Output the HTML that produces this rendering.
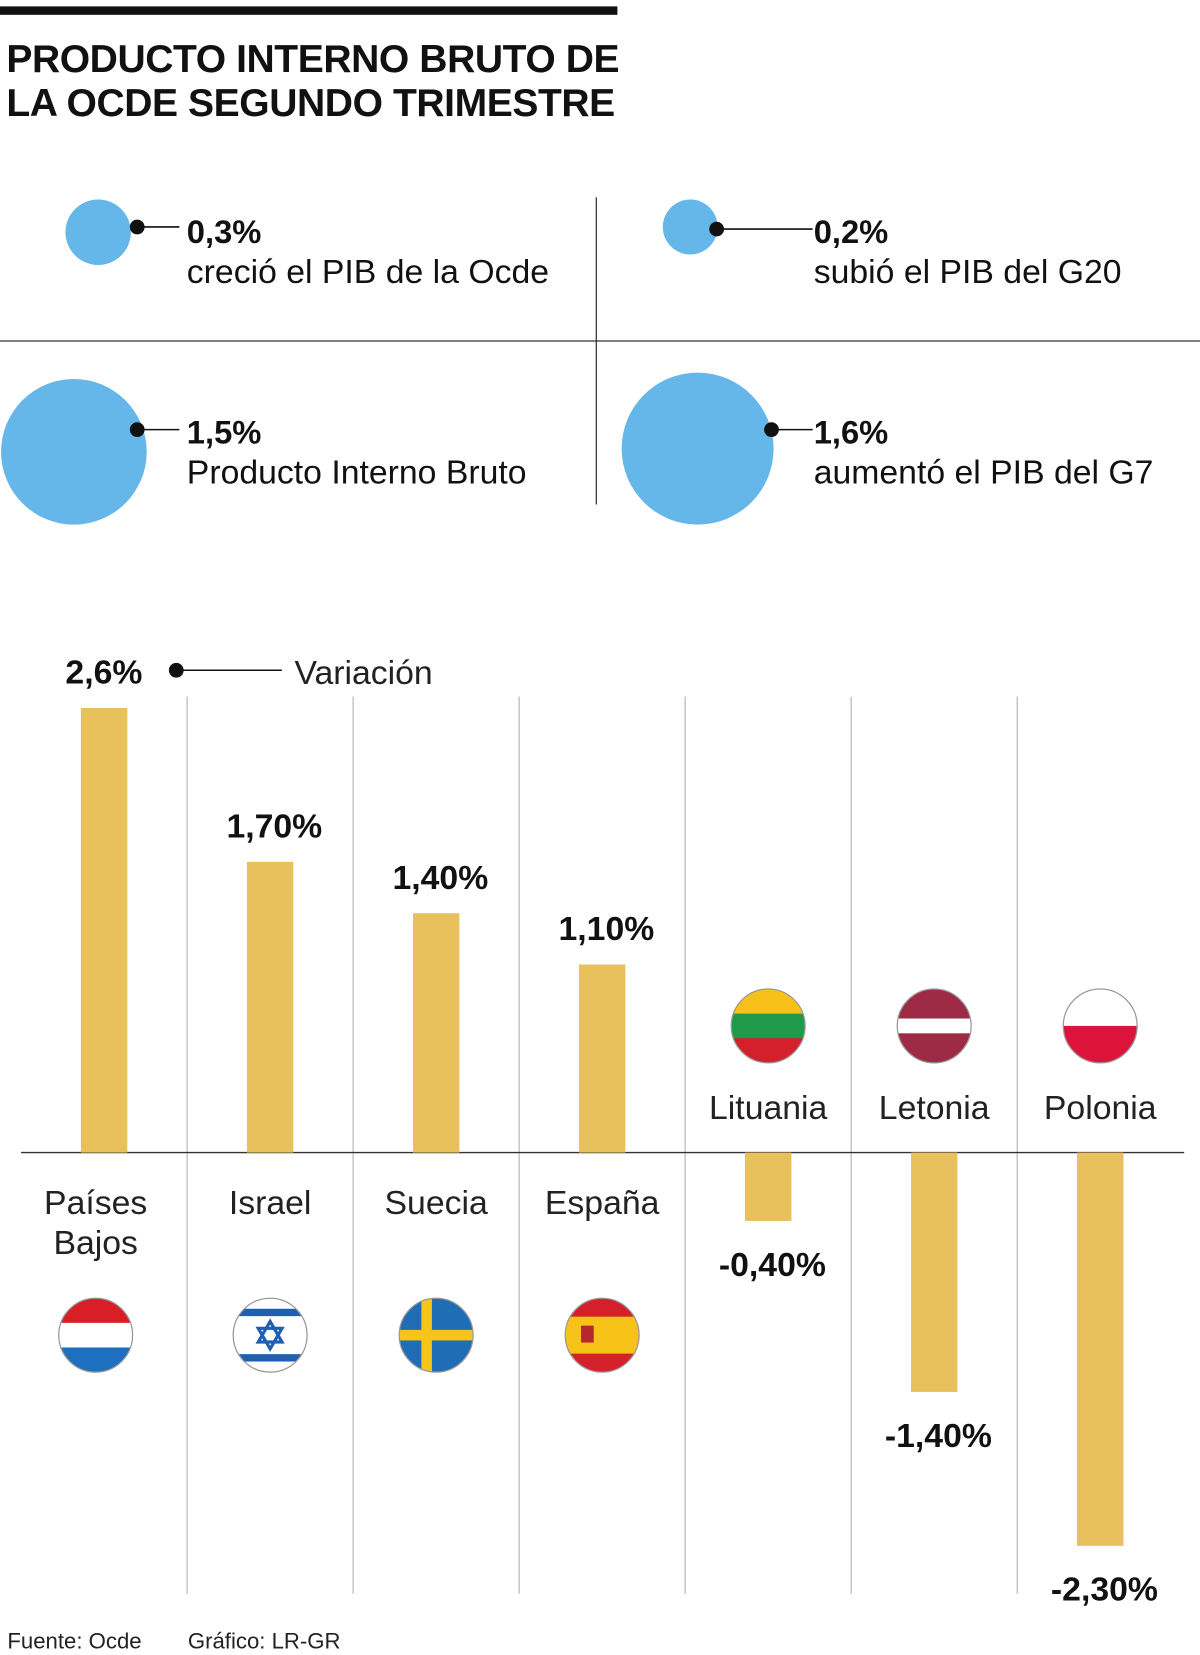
<!DOCTYPE html>
<html><head><meta charset="utf-8">
<style>
html,body{margin:0;padding:0;background:#fff;}
svg{display:block;font-family:"Liberation Sans",Arial,sans-serif;}
</style></head>
<body>
<svg id="chart" width="1200" height="1655" viewBox="0 0 1137 1568" xmlns="http://www.w3.org/2000/svg">
<rect x="0" y="0" width="1137" height="1568" fill="#fff"/>
<rect x="0" y="6" width="585" height="8" fill="#111"/>
<text font-weight="bold" font-size="37" fill="#111" letter-spacing="-0.4"><tspan x="6" y="68">PRODUCTO INTERNO BRUTO DE</tspan><tspan x="6" y="110">LA OCDE SEGUNDO TRIMESTRE</tspan></text>

<g>
<line x1="565" y1="187" x2="565" y2="478" stroke="#333" stroke-width="1.2"/>
<line x1="0" y1="323" x2="1137" y2="323" stroke="#333" stroke-width="1.2"/>
<g>
<circle cx="93" cy="220" r="31" fill="#64b7e8"/>
<line x1="130" y1="215" x2="170" y2="215" stroke="#111" stroke-width="1.5"/><circle cx="130" cy="215" r="7" fill="#111"/>
<text x="177" y="230" font-size="31" font-weight="bold" fill="#111">0,3%</text>
<text x="177" y="268" font-size="32" fill="#111">creció el PIB de la Ocde</text></g>
<g>
<circle cx="654" cy="215" r="26" fill="#64b7e8"/>
<line x1="679" y1="217" x2="770" y2="217" stroke="#111" stroke-width="1.5"/><circle cx="679" cy="217" r="7" fill="#111"/>
<text x="771" y="230" font-size="31" font-weight="bold" fill="#111">0,2%</text>
<text x="771" y="268" font-size="32" fill="#111">subió el PIB del G20</text></g>
<g>
<circle cx="70" cy="428" r="69" fill="#64b7e8"/>
<line x1="130" y1="407" x2="170" y2="407" stroke="#111" stroke-width="1.5"/><circle cx="130" cy="407" r="7" fill="#111"/>
<text x="177" y="420" font-size="31" font-weight="bold" fill="#111">1,5%</text>
<text x="177" y="458" font-size="32" fill="#111">Producto Interno Bruto</text></g>
<g>
<circle cx="661" cy="425" r="72" fill="#64b7e8"/>
<line x1="731" y1="407" x2="770" y2="407" stroke="#111" stroke-width="1.5"/><circle cx="731" cy="407" r="7" fill="#111"/>
<text x="771" y="420" font-size="31" font-weight="bold" fill="#111">1,6%</text>
<text x="771" y="458" font-size="32" fill="#111">aumentó el PIB del G7</text></g>
</g>

<g id="plot"></g>

<text x="7" y="1562" font-size="21" fill="#222">Fuente: Ocde</text>
<text x="178" y="1562" font-size="21" fill="#222">Gráfico: LR-GR</text>
</svg>
<script>
const categories = ["Países Bajos","Israel","Suecia","España","Lituania","Letonia","Polonia"];
const values = [2.6,1.7,1.4,1.1,-0.4,-1.4,-2.3];
const valueLabels = ["2,6%","1,70%","1,40%","1,10%","-0,40%","-1,40%","-2,30%"];
const flags = ["nl","il","se","es","lt","lv","pl"];

const NS="http://www.w3.org/2000/svg";
const g=document.getElementById('plot');
const zeroY=1092, unit=162, x0=20, colW=157.3, barW=44;
const yScale=v=>zeroY-v*unit;
const xCenter=i=>x0+colW*(i+0.5);
function mk(tag,attrs,parent){const e=document.createElementNS(NS,tag);for(const k in attrs)e.setAttribute(k,attrs[k]);(parent||g).appendChild(e);return e;}

for(let i=1;i<categories.length;i++){
  const l=mk('line',{x1:x0+colW*i,x2:x0+colW*i,y1:660,y2:1510,stroke:'#bbb','stroke-width':1.2});
  
  
}
const ax=mk('line',{x1:20,x2:1122,y1:zeroY,y2:zeroY,stroke:'#333','stroke-width':1.3});



function flag(type,cx,cy,r,parent){
  const id='c'+type;
  const cp=mk('clipPath',{id:id},parent);mk('circle',{cx:cx,cy:cy,r:r},cp);
  const fg=mk('g',{'clip-path':'url(#'+id+')'},parent);
  const L=cx-r,T=cy-r,W=2*r;
  const stripes=(cols)=>cols.forEach((c,k)=>mk('rect',{x:L,y:T+W*k/cols.length,width:W,height:W/cols.length+0.5,fill:c},fg));
  if(type==='nl')stripes(['#d91f26','#fff','#1d6fbf']);
  if(type==='lt')stripes(['#f7c11a','#1f9a4a','#d3202a']);
  if(type==='pl')stripes(['#fff','#dc143c']);
  if(type==='lv'){mk('rect',{x:L,y:T,width:W,height:W,fill:'#9e2a46'},fg);mk('rect',{x:L,y:cy-W*0.1,width:W,height:W*0.2,fill:'#fff'},fg);}
  if(type==='es'){mk('rect',{x:L,y:T,width:W,height:W,fill:'#d4202a'},fg);mk('rect',{x:L,y:cy-W*0.25,width:W,height:W*0.5,fill:'#f7c318'},fg);mk('rect',{x:cx-20,y:cy-9,width:12,height:16,fill:'#b5262e'},fg);}
  if(type==='se'){mk('rect',{x:L,y:T,width:W,height:W,fill:'#1f6db5'},fg);mk('rect',{x:L,y:cy-5,width:W,height:10,fill:'#f5c518'},fg);mk('rect',{x:cx-14,y:T,width:10,height:W,fill:'#f5c518'},fg);}
  if(type==='il'){mk('rect',{x:L,y:T,width:W,height:W,fill:'#fff'},fg);mk('rect',{x:L,y:T+10,width:W,height:7,fill:'#1e5fb3'},fg);mk('rect',{x:L,y:cy+r-17,width:W,height:7,fill:'#1e5fb3'},fg);
    const s=13;const p=(a)=>[0,1,2].map(k=>{const t=a+k*2*Math.PI/3;return (cx+s*Math.sin(t))+','+(cy-s*Math.cos(t));}).join(' ');
    mk('polygon',{points:p(0),fill:'none',stroke:'#1e5fb3','stroke-width':3},fg);mk('polygon',{points:p(Math.PI),fill:'none',stroke:'#1e5fb3','stroke-width':3},fg);}
  mk('circle',{cx:cx,cy:cy,r:r,fill:'none',stroke:'#999','stroke-width':1.2},parent);
}

categories.forEach((c,i)=>{
  const v=values[i],cx=xCenter(i),top=Math.min(yScale(v),zeroY),h=Math.abs(yScale(v)-zeroY);
  const b=mk('rect',{x:cx-barW/2,y:top,width:barW,height:h,fill:'#e8c15c'});
  
  
  const pos=v>=0;
  let lx=cx+4,anchor='middle';
  if(i===0){lx=62;anchor='start';}
  const lab=mk('text',{x:lx,y:pos?yScale(v)-23:yScale(v)+52,'text-anchor':anchor,'font-size':32,'font-weight':'bold',fill:'#111'});
  lab.textContent=valueLabels[i];
  
  
  const off=i===0?-8:0;
  const nm=mk('text',{'text-anchor':'middle','font-size':32,fill:'#222'});
  
  
  const words=c==="Países Bajos"?["Países","Bajos"]:[c];
  const baseY=pos?1150:1060;
  words.forEach((w,k)=>{const t=mk('tspan',{x:cx+off,y:baseY+k*38},nm);t.textContent=w;});
  const fg=mk('g',{});
  
  
  flag(flags[i],cx+off,pos?1265:972,35,fg);
});
const lg=mk('g',{});


mk('line',{x1:167,x2:267,y1:635,y2:635,stroke:'#111','stroke-width':1.5},lg);
mk('circle',{cx:167,cy:635,r:7,fill:'#111'},lg);
const vt=mk('text',{x:279,y:648,'font-size':32,fill:'#222'},lg);vt.textContent='Variación';
</script>
</body></html>
